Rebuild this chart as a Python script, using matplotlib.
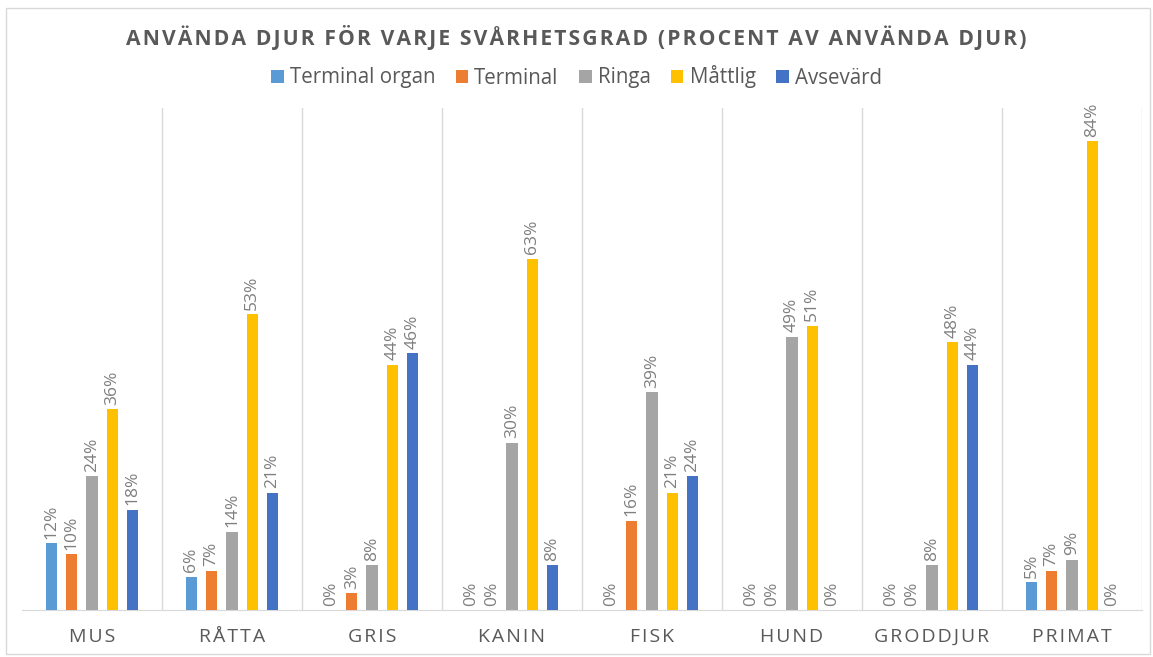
import numpy as np
import matplotlib
matplotlib.use("Agg")
import matplotlib.pyplot as plt
from matplotlib.patches import Rectangle

# ---------- Data ---------- #
djur = ["MUS", "RÅTTA", "GRIS", "KANIN", "FISK", "HUND", "GRODDJUR", "PRIMAT"]
serier = ["Terminal organ", "Terminal", "Ringa", "Måttlig", "Avsevärd"]
terminal_organ = [12, 6, 0, 0, 0, 0, 0, 5]
terminal = [10, 7, 3, 0, 16, 0, 0, 7]
ringa = [24, 14, 8, 30, 39, 49, 8, 9]
mattlig = [36, 53, 44, 63, 21, 51, 48, 84]
avsevard = [18, 21, 46, 8, 24, 0, 44, 0]
farger = ["#5B9BD5", "#ED7D31", "#A5A5A5", "#FFC000", "#4472C4"]

varden = [terminal_organ, terminal, ringa, mattlig, avsevard]

plt.rcParams['font.family'] = ['Open Sans', 'DejaVu Sans']

fig = plt.figure(figsize=(11.53, 6.57), dpi=100)
ax = fig.add_axes([22 / 1153, 1 - 610 / 657, 1120 / 1153, 502 / 657])

x = np.arange(len(djur))
bredd = 0.08
steg = 0.145

for i, (namn, vals, farg) in enumerate(zip(serier, varden, farger)):
    pos = x + (i - 2) * steg
    v = np.array(vals) / 100
    ax.bar(pos, v, width=bredd, color=farg, label=namn, zorder=3)
    for p, val in zip(pos, vals):
        ax.text(p, val / 100 + 0.008, f"{val}%", rotation=90, ha="center", va="bottom",
                fontsize=12.5, color="#7F7F7F")

ax.set_xlim(-0.5, len(djur) - 0.5)
ax.set_ylim(0, 0.9)
ax.set_yticks([])
ax.set_xticks(x)
# lite extra bokstavsavstånd som i originalet
ax.set_xticklabels(["\u200a".join(d) for d in djur])
ax.tick_params(axis="x", length=0, pad=13, labelsize=14, labelcolor="#595959")

# vertikala avdelare mellan kategorierna
for b in np.arange(0.5, len(djur), 1.0):
    ax.axvline(b, color="#D9D9D9", lw=1, zorder=1)

for s in ["top", "left", "right"]:
    ax.spines[s].set_visible(False)
ax.spines["bottom"].set_color("#D9D9D9")

titel = "ANVÄNDA DJUR FÖR VARJE SVÅRHETSGRAD (PROCENT AV ANVÄNDA DJUR)"
fig.text(0.5, 1 - 37 / 657, "\u200a".join(titel),
         ha="center", va="center", fontsize=15.2, fontweight="bold", color="#595959")

fig.legend(loc="center", bbox_to_anchor=(0.5, 1 - 77 / 657), ncol=5, frameon=False,
           fontsize=14.8, labelcolor="#595959", handlelength=0.6, handleheight=0.6,
           handletextpad=0.3, columnspacing=1.0)

# ram runt diagrammet
fig.patches.append(Rectangle((6 / 1153, 3 / 657), 1144 / 1153, 646 / 657, transform=fig.transFigure,
                             fill=False, edgecolor="#D9D9D9", lw=1))

fig.savefig("out.png", dpi=100)
